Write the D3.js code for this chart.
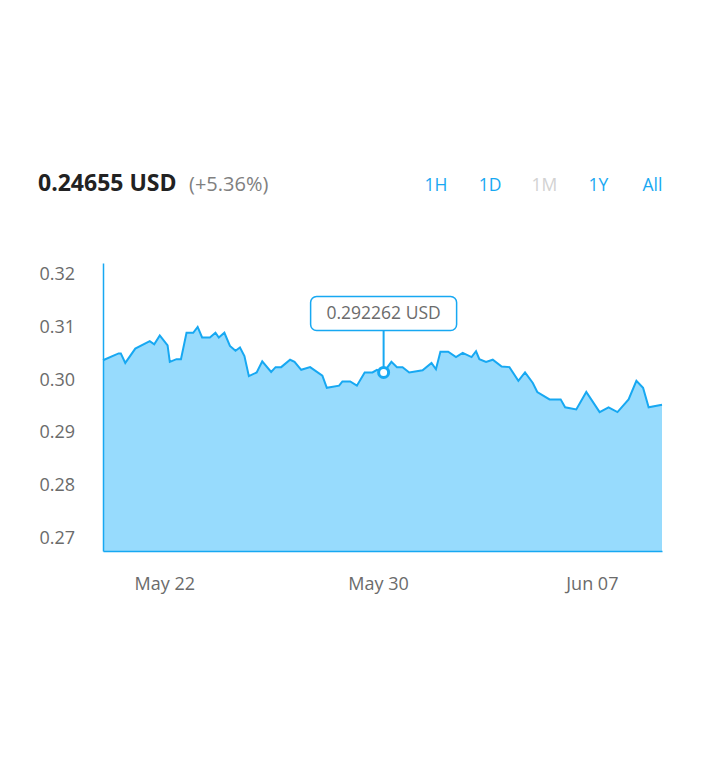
<!DOCTYPE html>
<html>
<head>
<meta charset="utf-8">
<script src="https://cdn.jsdelivr.net/npm/d3@7"></script>
<style>
  html, body { margin: 0; padding: 0; background: #fff; }
  svg { display: block; font-family: "Open Sans", "Noto Sans", sans-serif; }
</style>
</head>
<body>
<svg id="chart" width="704" height="768"></svg>
<script>
// ---- data ----
const times = [
  "2018-05-19T17:00","2018-05-20T07:00","2018-05-20T09:00","2018-05-20T13:00","2018-05-20T22:00",
  "2018-05-21T11:00","2018-05-21T15:00","2018-05-21T20:00","2018-05-22T03:00","2018-05-22T05:00",
  "2018-05-22T11:00","2018-05-22T15:00","2018-05-22T20:00","2018-05-23T02:00","2018-05-23T06:00",
  "2018-05-23T10:00","2018-05-23T17:00","2018-05-23T22:00","2018-05-24T01:00","2018-05-24T06:00",
  "2018-05-24T11:00","2018-05-24T16:00","2018-05-24T20:00","2018-05-25T00:00","2018-05-25T04:00",
  "2018-05-25T11:00","2018-05-25T16:00","2018-05-26T00:00","2018-05-26T04:00","2018-05-26T09:00",
  "2018-05-26T17:00","2018-05-26T21:00","2018-05-27T03:00","2018-05-27T11:00","2018-05-27T22:00",
  "2018-05-28T02:00","2018-05-28T13:00","2018-05-28T16:00","2018-05-28T23:00","2018-05-29T05:00",
  "2018-05-29T12:00","2018-05-29T19:00","2018-05-29T23:00","2018-05-30T05:00","2018-05-30T12:00",
  "2018-05-30T17:00","2018-05-30T22:00","2018-05-31T04:00","2018-05-31T16:00","2018-06-01T00:00",
  "2018-06-01T04:00","2018-06-01T08:00","2018-06-01T15:00","2018-06-01T22:00","2018-06-02T04:00",
  "2018-06-02T12:00","2018-06-02T16:00","2018-06-02T19:00","2018-06-03T01:00","2018-06-03T07:00",
  "2018-06-03T15:00","2018-06-03T22:00","2018-06-04T06:00","2018-06-04T12:00","2018-06-04T19:00",
  "2018-06-04T23:00","2018-06-05T10:00","2018-06-05T20:00","2018-06-06T00:00","2018-06-06T10:00",
  "2018-06-06T19:00","2018-06-07T07:00","2018-06-07T15:00","2018-06-07T23:00","2018-06-08T09:00",
  "2018-06-08T16:00","2018-06-08T22:00","2018-06-09T03:00","2018-06-09T15:00"
];
const prices = [
  0.3036,0.3049,0.3049,0.3031,0.3058,
  0.3072,0.3066,0.3083,0.3064,0.3033,
  0.3038,0.3038,0.3088,0.3088,0.3099,
  0.3079,0.3079,0.3088,0.3079,0.3088,
  0.3063,0.3054,0.3060,0.3044,0.3006,
  0.3013,0.3034,0.3014,0.3023,0.3023,
  0.3037,0.3033,0.3018,0.3023,0.3007,
  0.2984,0.2988,0.2996,0.2996,0.2988,
  0.3013,0.3013,0.3018,0.3013,0.3033,
  0.3023,0.3023,0.3013,0.3017,0.3031,
  0.3019,0.3052,0.3052,0.3042,0.3050,
  0.3042,0.3053,0.3038,0.3033,0.3037,
  0.3024,0.3023,0.2997,0.3013,0.2993,
  0.2976,0.2962,0.2962,0.2947,0.2943,
  0.2976,0.2938,0.2947,0.2938,0.2962,
  0.2997,0.2984,0.2947,0.2952
];
const yTicks = [0.27, 0.28, 0.29, 0.30, 0.31, 0.32];
const yDomain = [0.26753, 0.32199];
const xTicks = ["2018-05-22T00:00", "2018-05-30T00:00", "2018-06-07T00:00"];
const headerPrice = "0.24655 USD";
const headerChange = "(+5.36%)";
const ranges = ["1H", "1D", "1M", "1Y", "All"];
const activeRange = "1M";
const highlightIndex = 43;
const tooltipLabel = "0.292262 USD";

// ---- drawing ----
const parse = d3.timeParse("%Y-%m-%dT%H:%M");
const data = times.map((t, i) => ({ date: parse(t), value: prices[i] }));

const svg = d3.select("#chart");
const plotLeft = 103, plotRight = 662, plotTop = 263, plotBottom = 551;
const blue = "#17a8f2";
const fillColor = "#97dbfd";
const labelFont = "Open Sans, Noto Sans, sans-serif";

const x = d3.scaleTime().domain(d3.extent(data, d => d.date)).range([plotLeft, plotRight]);
const y = d3.scaleLinear().domain(yDomain).range([plotBottom, plotTop]);

// header
svg.append("text").attr("x", 38).attr("y", 191)
  .attr("font-size", 23).attr("font-weight", 700).attr("fill", "#222")
  .text(headerPrice);
svg.append("text").attr("x", 189).attr("y", 191)
  .attr("font-size", 20).attr("fill", "#808080")
  .text(headerChange);

const btnCenters = d3.scalePoint().domain(ranges).range([436, 652.5]);
svg.append("g").selectAll("text").data(ranges).join("text")
  .attr("x", d => btnCenters(d)).attr("y", 191)
  .attr("text-anchor", "middle").attr("font-size", 17.5)
  .attr("fill", d => d === activeRange ? "#d2d2d2" : blue)
  .text(d => d);

// area + line
const area = d3.area().x(d => x(d.date)).y0(plotBottom).y1(d => y(d.value));
const line = d3.line().x(d => x(d.date)).y(d => y(d.value));
svg.append("path").datum(data).attr("d", area).attr("fill", fillColor);
svg.append("path").datum(data).attr("d", line)
  .attr("fill", "none").attr("stroke", blue).attr("stroke-width", 2)
  .attr("stroke-linejoin", "miter");

// axes
const yAxis = d3.axisLeft(y).tickValues(yTicks).tickFormat(d3.format(".2f"))
  .tickSize(0).tickPadding(28);
const gy = svg.append("g").attr("transform", `translate(${plotLeft},0)`).call(yAxis);
gy.select(".domain").attr("stroke", blue).attr("stroke-width", 1.5);
gy.selectAll("text").attr("font-size", 18).attr("fill", "#6b6b6b")
  .attr("font-family", labelFont);

const xAxis = d3.axisBottom(x).tickValues(xTicks.map(parse))
  .tickFormat(d3.timeFormat("%b %d")).tickSize(0).tickPadding(26);
const gx = svg.append("g").attr("transform", `translate(0,${plotBottom})`).call(xAxis);
gx.select(".domain").attr("stroke", blue).attr("stroke-width", 1.5);
gx.selectAll("text").attr("font-size", 18).attr("fill", "#6b6b6b")
  .attr("font-family", labelFont);

// tooltip
const hp = data[highlightIndex];
const mx = x(hp.date), my = y(hp.value);
const boxW = 146, boxH = 34;
const boxBottom = my - 42;
svg.append("line").attr("x1", mx).attr("x2", mx).attr("y1", boxBottom).attr("y2", my)
  .attr("stroke", blue).attr("stroke-width", 2);
svg.append("rect").attr("x", mx - boxW / 2).attr("y", boxBottom - boxH)
  .attr("width", boxW).attr("height", boxH).attr("rx", 6).attr("ry", 6)
  .attr("fill", "#fff").attr("stroke", blue).attr("stroke-width", 1.5);
svg.append("text").attr("x", mx).attr("y", boxBottom - boxH / 2 + 6)
  .attr("text-anchor", "middle").attr("font-size", 17.5).attr("fill", "#6b6b6b")
  .text(tooltipLabel);
svg.append("circle").attr("cx", mx).attr("cy", my).attr("r", 5)
  .attr("fill", "#fff").attr("stroke", blue).attr("stroke-width", 3);
</script>
</body>
</html>
